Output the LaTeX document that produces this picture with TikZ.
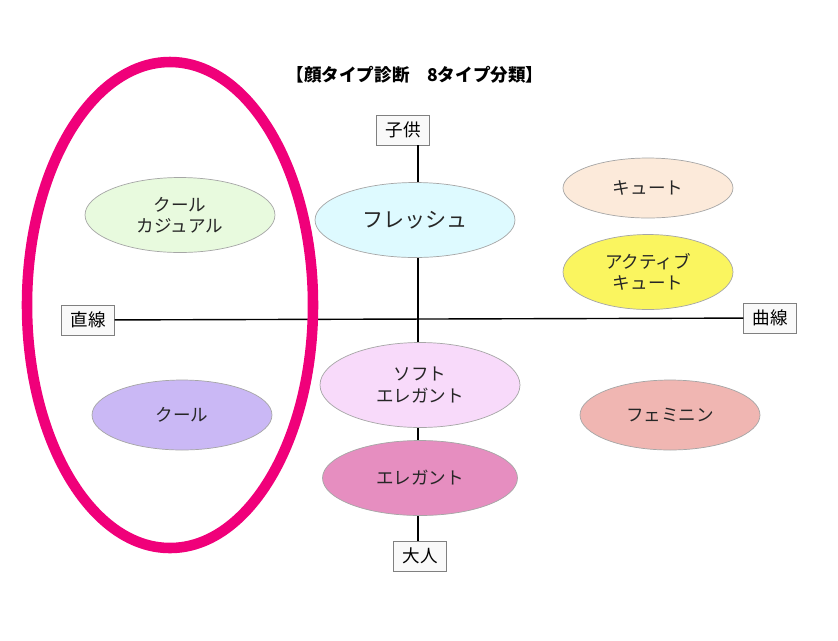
\documentclass[tikz,border=0pt]{standalone}
\usepackage{fontspec}
\setmainfont{Noto Sans CJK JP}
\usetikzlibrary{shapes.geometric}
\definecolor{cgreen}{RGB}{232,250,222}
\definecolor{ccyan}{RGB}{222,250,255}
\definecolor{cpeach}{RGB}{252,234,218}
\definecolor{cyellow}{RGB}{250,245,95}
\definecolor{cpink}{RGB}{248,218,250}
\definecolor{clav}{RGB}{202,184,245}
\definecolor{csalmon}{RGB}{240,182,178}
\definecolor{crose}{RGB}{230,142,192}
\definecolor{cmag}{RGB}{240,0,122}
\tikzset{
  typ/.style={ellipse, draw=gray!70, thin, inner sep=0pt, align=center, font=\normalsize, text=black!85},
  lbl/.style={draw=gray, fill=white!95!gray, thin, font=\normalsize, minimum height=0.6cm, inner xsep=5pt}
}
\begin{document}
\begin{tikzpicture}[x=0.02cm,y=-0.02cm]
\useasboundingbox (0,0) rectangle (838,640);
\fill[white] (0,0) rectangle (838,640);
\node[font=\normalsize\bfseries] (title) at (415,75) {【顔タイプ診断\hspace{1em}8タイプ分類】};
% axes
\node[lbl] (kodomo) at (403,130) {子供};
\node[lbl] (otona) at (420,556) {大人};
\node[lbl] (choku) at (88,320) {直線};
\node[lbl] (kyoku) at (770,318) {曲線};
\coordinate (top) at (kodomo.south -| 418,0);
\coordinate (bot) at (otona.north -| 418,0);
\draw[black, line width=0.8pt] (top) -- (bot);
\draw[black, line width=0.8pt] (choku) -- (kyoku);
% types
\node[typ, fill=cgreen, minimum width=3.8cm, minimum height=1.5cm] (coolcas) at (180,215) {クール\\カジュアル};
\node[typ, fill=ccyan, minimum width=4cm, minimum height=1.5cm, font=\large] (fresh) at (415,220) {フレッシュ};
\node[typ, fill=cpeach, minimum width=3.4cm, minimum height=1.2cm] (cute) at (648,188) {キュート};
\node[typ, fill=cyellow, minimum width=3.4cm, minimum height=1.5cm] (active) at (648,272) {アクティブ\\キュート};
\node[typ, fill=cpink, minimum width=4cm, minimum height=1.7cm] (softel) at (420,385) {ソフト\\エレガント};
\node[typ, fill=clav, minimum width=3.6cm, minimum height=1.4cm] (cool) at (182,415) {クール};
\node[typ, fill=csalmon, minimum width=3.6cm, minimum height=1.4cm] (femi) at (670,415) {フェミニン};
\node[typ, fill=crose, minimum width=3.9cm, minimum height=1.5cm] (elegant) at (420,478) {エレガント};
% highlight
\draw[cmag, line width=6pt] (170,305) ellipse [x radius=143, y radius=243];
\end{tikzpicture}
\end{document}
